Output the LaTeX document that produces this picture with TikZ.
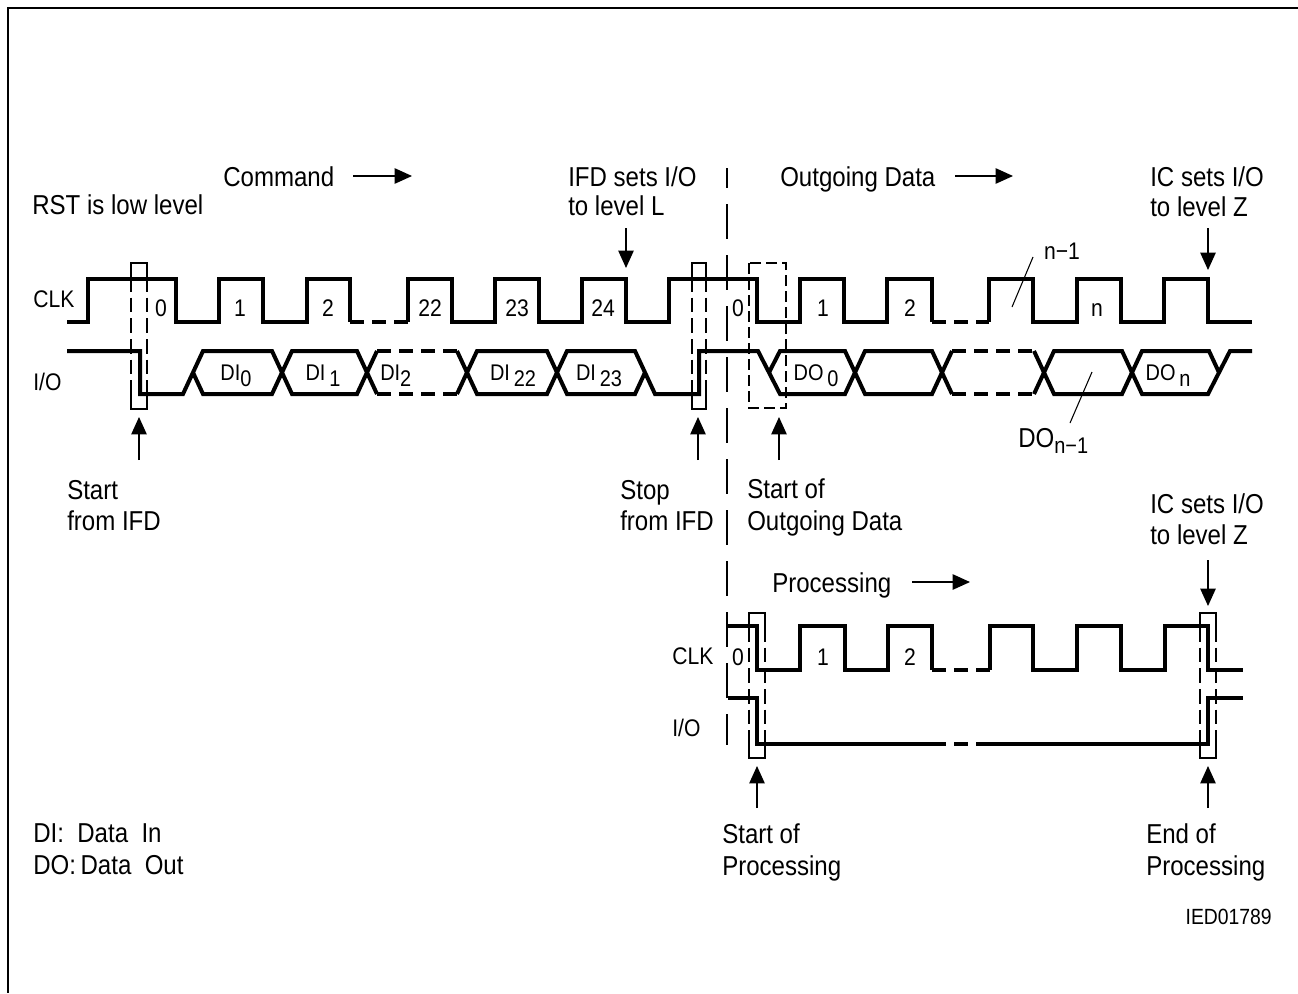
\documentclass[tikz,border=0pt]{standalone}
\usepackage{fontspec}
\setmainfont[FakeStretch=0.88]{Liberation Sans}
\usetikzlibrary{arrows.meta}
\newcommand{\sbx}[1]{\raisebox{-5pt}{#1}}
\newcommand{\sbs}[1]{\raisebox{-5pt}{\fontsize{17}{18}\selectfont #1}}
\begin{document}
\begin{tikzpicture}[x=0.75pt,y=-0.75pt,
  wave/.style={line width=3pt, line join=miter},
  wavedash/.style={line width=3pt, dash pattern=on 10.5pt off 6pt},
  thinl/.style={line width=1.1pt},
  boxside/.style={line width=1pt, dash pattern=on 11pt off 4.5pt},
  arr/.style={line width=1.1pt, -{Triangle[length=13pt,width=11.5pt]}},
  lbl/.style={font=\fontsize{20.5}{24}\selectfont, inner sep=0pt, anchor=base west},
  wl/.style={font=\fontsize{18}{20}\selectfont, inner sep=0pt, anchor=base west},
  num/.style={font=\fontsize{18}{20}\selectfont, inner sep=0pt, anchor=base},
  dl/.style={font=\fontsize{17}{18}\selectfont, inner sep=0pt, anchor=base},
  small/.style={font=\fontsize{16.5}{18}\selectfont, inner sep=0pt, anchor=base east}]
\useasboundingbox (0,0) rectangle (1298,993);
% border
\draw[line width=1.5pt] (1298,8) -- (8,8) -- (8,993);

% ---------- texts ----------
\node[lbl] (rst) at (32,214) {RST is low level};
\node[lbl] (cmd) at (223,186) {Command};
\node[lbl] (ifd1) at (568,186) {IFD sets I/O};
\node[lbl] (ifd2) at (568,215) {to level L};
\node[lbl] (out) at (780,186) {Outgoing Data};
\node[lbl] (ic1) at (1150,186) {IC sets I/O};
\node[lbl] (ic2) at (1150,216) {to level Z};
\node[wl] (clkA) at (33,307) {CLK};
\node[wl] (ioA) at (33,390) {I/O};
\node[lbl] (st1) at (67,499) {Start};
\node[lbl] (st2) at (67,530) {from IFD};
\node[lbl] (sp1) at (620,499) {Stop};
\node[lbl] (sp2) at (620,530) {from IFD};
\node[lbl] (so1) at (747,498) {Start of};
\node[lbl] (so2) at (747,530) {Outgoing Data};
\node[lbl] (icb1) at (1150,513) {IC sets I/O};
\node[lbl] (icb2) at (1150,544) {to level Z};
\node[lbl] (proc) at (772,592) {Processing};
\node[wl] (clkB) at (672,664) {CLK};
\node[wl] (ioB) at (672,736) {I/O};
\node[lbl] (sp3) at (722,843) {Start of};
\node[lbl] (sp4) at (722,875) {Processing};
\node[lbl] (ep1) at (1146,843) {End of};
\node[lbl] (ep2) at (1146,875) {Processing};
\node[lbl] (di) at (33,842) {DI:\ \ Data\ \ In};
\node[lbl] (do) at (33,874) {DO:\,Data\ \ Out};
\node[small] (ied) at (1272,924) {IED01789};

% ---------- clock numbers ----------
\node[num] (c0) at (161,316) {0};
\node[num] (c1) at (240,316) {1};
\node[num] (c2) at (328,316) {2};
\node[num] (c22) at (430,316) {22};
\node[num] (c23) at (517,316) {23};
\node[num] (c24) at (603,316) {24};
\node[num] (d0) at (738,316) {0};
\node[num] (d1) at (823,316) {1};
\node[num] (d2) at (910,316) {2};
\node[num] (dn) at (1097,316) {n};
\node[num] (dn1) at (1062,259) {n−1};
\node[num] (p0) at (738,665) {0};
\node[num] (p1) at (823,665) {1};
\node[num] (p2) at (910,665) {2};

% ---------- data labels ----------
\node[dl] (di0) at (236,380) {DI\sbx{0}};
\node[dl] (di1) at (323,380) {DI\,\sbx{1}};
\node[dl,anchor=base west] (di2) at (380,380) {DI\sbx{2}};
\node[dl] (di22) at (513,380) {DI\,\sbx{22}};
\node[dl] (di23) at (599,380) {DI\,\sbx{23}};
\node[dl] (do0) at (816,380) {DO\,\sbx{0}};
\node[dl] (don) at (1168,380) {DO\,\sbx{n}};
\node[lbl] (don1) at (1018,447) {DO\sbs{n−1}};

% ---------- top CLK ----------
\draw[wave] (67,322) -- (88,322) -- (88,279) -- (176,279) -- (176,322) -- (219,322) -- (219,279) -- (263,279) -- (263,322) -- (307,322) -- (307,279) -- (350,279) -- (350,322);
\draw[wavedash] (350,322) -- (408,322);
\draw[wave] (408,322) -- (408,279) -- (452,279) -- (452,322) -- (495,322) -- (495,279) -- (539,279) -- (539,322) -- (582,322) -- (582,279) -- (626,279) -- (626,322) -- (669,322) -- (669,279) -- (757,279) -- (757,322) -- (800,322) -- (800,279) -- (844,279) -- (844,322) -- (887,322) -- (887,279) -- (932,279) -- (932,322);
\draw[wavedash] (932,322) -- (989,322);
\draw[wave] (989,322) -- (989,279) -- (1033,279) -- (1033,322) -- (1077,322) -- (1077,279) -- (1121,279) -- (1121,322) -- (1164,322) -- (1164,279) -- (1208,279) -- (1208,322) -- (1252,322);

% ---------- top I/O ----------
\draw[wave] (67,351) -- (140,351) -- (140,394) -- (183,394) -- (203,351) -- (272,351) -- (292,394) -- (357,394) -- (377,351);
\draw[wave] (193,372.5) -- (203,394) -- (272,394) -- (292,351) -- (357,351) -- (377,394);
\draw[wavedash] (377,351) -- (457,351);
\draw[wavedash] (377,394) -- (457,394);
\draw[wave] (457,351) -- (477,394) -- (547,394) -- (567,351) -- (635,351) -- (655,394) -- (699,394) -- (699,351) -- (758,351) -- (780,394) -- (845,394) -- (865,351) -- (932,351) -- (952,394);
\draw[wave] (457,394) -- (477,351) -- (547,351) -- (567,394) -- (635,394) -- (645,372.5);
\draw[wave] (769,372.5) -- (780,351) -- (845,351) -- (865,394) -- (932,394) -- (952,351);
\draw[wavedash] (952,351) -- (1034,351);
\draw[wavedash] (952,394) -- (1034,394);
\draw[wave] (1034,351) -- (1054,394) -- (1122,394) -- (1142,351) -- (1209,351) -- (1219,372.5);
\draw[wave] (1034,394) -- (1054,351) -- (1122,351) -- (1142,394) -- (1208,394) -- (1230,351) -- (1252,351);

% ---------- processing CLK / IO ----------
\draw[wave] (728,626) -- (757,626) -- (757,670) -- (800,670) -- (800,626) -- (845,626) -- (845,670) -- (888,670) -- (888,626) -- (932,626) -- (932,670);
\draw[wavedash] (932,670) -- (990,670);
\draw[wave] (990,670) -- (990,626) -- (1033,626) -- (1033,670) -- (1077,670) -- (1077,626) -- (1121,626) -- (1121,670) -- (1165,670) -- (1165,626) -- (1208,626) -- (1208,670) -- (1243,670);
\draw[wave] (728,698) -- (757,698) -- (757,744) -- (932,744);
\draw[wavedash] (932,744) -- (990,744);
\draw[wave] (990,744) -- (1208,744) -- (1208,698) -- (1243,698);

% ---------- marker boxes ----------
\foreach \xa/\xb/\ya/\yb in {131/147/263/409, 692/706/263/409, 749/765/613/758, 1200/1216/613/758}{
  \draw[line width=1pt] (\xa,\ya+14) -- (\xa,\ya) -- (\xb,\ya) -- (\xb,\ya+14);
  \draw[line width=1pt] (\xa,\yb-14) -- (\xa,\yb) -- (\xb,\yb) -- (\xb,\yb-14);
  \draw[boxside] (\xa,\ya+14) -- (\xa,\yb-14);
  \draw[boxside] (\xb,\ya+14) -- (\xb,\yb-14);
}
\draw[line width=1pt, dash pattern=on 8pt off 4pt] (749,263) rectangle (786,408);

% ---------- long separator ----------
\draw[line width=1.5pt, dash pattern=on 26.25pt off 12pt, dash phase=11.25pt] (727,168) -- (727,745);

% ---------- arrows ----------
\coordinate (a1s) at (353,176); \coordinate (a1e) at (412,176);
\coordinate (a2s) at (955,176); \coordinate (a2e) at (1013,176);
\coordinate (a3s) at (912,582); \coordinate (a3e) at (970,582);
\draw[arr] (a1s) -- (a1e);
\draw[arr] (a2s) -- (a2e);
\draw[arr] (a3s) -- (a3e);
\coordinate (b1s) at (626,228); \coordinate (b1e) at (626,268);
\coordinate (b2s) at (1208,228); \coordinate (b2e) at (1208,270);
\coordinate (b3s) at (1208,560); \coordinate (b3e) at (1208,606);
\draw[arr] (b1s) -- (b1e);
\draw[arr] (b2s) -- (b2e);
\draw[arr] (b3s) -- (b3e);
\coordinate (u1s) at (139,460); \coordinate (u1e) at (139,417);
\coordinate (u2s) at (698,460); \coordinate (u2e) at (698,417);
\coordinate (u3s) at (779,460); \coordinate (u3e) at (779,417);
\coordinate (u4s) at (757,808); \coordinate (u4e) at (757,766);
\coordinate (u5s) at (1208,808); \coordinate (u5e) at (1208,766);
\draw[arr] (u1s) -- (u1e);
\draw[arr] (u2s) -- (u2e);
\draw[arr] (u3s) -- (u3e);
\draw[arr] (u4s) -- (u4e);
\draw[arr] (u5s) -- (u5e);

% ---------- leader lines ----------
\coordinate (l1a) at (1033,257); \coordinate (l1b) at (1012,307);
\coordinate (l2a) at (1070,423); \coordinate (l2b) at (1092,372);
\draw[line width=0.8pt] (l1a) -- (l1b);
\draw[line width=0.8pt] (l2a) -- (l2b);
\end{tikzpicture}
\end{document}
